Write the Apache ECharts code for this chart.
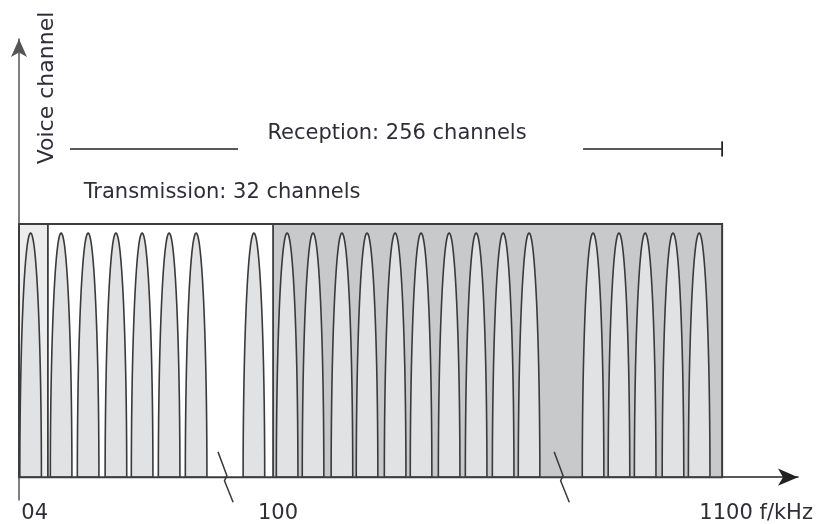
<!DOCTYPE html>
<html>
<head>
<meta charset="utf-8">
<script src="https://cdn.jsdelivr.net/npm/echarts@6/dist/echarts.min.js"></script>
<style>
  html, body { margin: 0; padding: 0; background: #ffffff; }
  #chart { width: 817px; height: 524px; }
</style>
</head>
<body>
<div id="chart"></div>
<script>
// ---- data (schematic axis in channel-slot units) ----
const channelCenters = [0.43, 1.56, 2.56, 3.59, 4.56, 5.56, 6.56, 8.70,
  9.93, 10.89, 11.96, 12.89, 13.93, 14.89, 15.93, 16.93, 17.93, 18.89,
  21.26, 22.22, 23.19, 24.22, 25.19];
const channelLevels = [9.64, 9.64, 9.64, 9.64, 9.64, 9.64, 9.64, 9.64,
  9.64, 9.64, 9.64, 9.64, 9.64, 9.64, 9.64, 9.64, 9.64, 9.64,
  9.64, 9.64, 9.64, 9.64, 9.64];
const channelWidth = 0.8;
const bandStarts = [0, 1.07, 9.41];
const bandEnds = [1.07, 9.41, 26.04];
const bandTop = 10;
const breakPositions = [7.6, 20.05];
const xTickValues = [0.58, 9.59, 27.3];
const xTickLabels = ['04', '100', '1100 f/kHz'];
const receptionSegments = [[1.89, 8.11], [20.89, 26.04]];
const receptionLevel = 12.96;
const receptionText = 'Reception: 256 channels';
const transmissionText = 'Transmission: 32 channels';
const yAxisName = 'Voice channel';

// ---- styles ----
const bandColors = ['#ececec', '#ffffff', '#c8c9cb'];
const archFill = '#e1e2e4';
const textColor = '#2e2e36';
const FONT = '"DejaVu Sans", "Liberation Sans", sans-serif';

const chart = echarts.init(document.getElementById('chart'), null, { renderer: 'canvas' });

const channelData = channelCenters.map((c, i) => [c, channelLevels[i]]);
const bandData = bandStarts.map((s, i) => [s, bandEnds[i], i]);

const option = {
  animation: false,
  backgroundColor: '#ffffff',
  grid: { left: 19, right: 19, top: 39, bottom: 24, containLabel: false, outerBoundsMode: 'none' },
  xAxis: {
    type: 'value', min: 0, max: 28.85,
    splitLine: { show: false },
    axisTick: { show: false },
    axisLine: {
      show: true, onZero: true,
      symbol: ['none', 'arrow'], symbolSize: [13, 20],
      lineStyle: { color: '#222222', width: 1.5 }
    },
    axisLabel: {
      show: true,
      customValues: xTickValues,
      formatter: function (v) {
        const i = xTickValues.indexOf(v);
        return i >= 0 ? xTickLabels[i] : '';
      },
      margin: 3,
      color: textColor,
      fontFamily: FONT,
      fontSize: 21
    }
  },
  yAxis: {
    type: 'value', min: -0.9, max: 17.3,
    splitLine: { show: false },
    axisTick: { show: false },
    axisLabel: { show: false },
    axisLine: {
      show: true, onZero: false,
      symbol: ['none', 'arrow'], symbolSize: [12, 18],
      lineStyle: { color: '#555555', width: 1.5 }
    }
  },
  graphic: [{
    type: 'text', x: 47, y: 88, rotation: Math.PI / 2,
    style: {
      text: yAxisName, align: 'center', verticalAlign: 'middle',
      fontSize: 22, fontFamily: FONT, fill: textColor
    }
  }],
  series: [
    {
      name: 'bands', type: 'custom', coordinateSystem: 'cartesian2d', z: 1,
      data: bandData,
      encode: { x: [0, 1] },
      renderItem: function (params, api) {
        const p0 = api.coord([api.value(0), bandTop]);
        const p1 = api.coord([api.value(1), 0]);
        return {
          type: 'rect',
          shape: { x: p0[0], y: p0[1], width: p1[0] - p0[0], height: p1[1] - p0[1] },
          style: { fill: bandColors[api.value(2)] }
        };
      }
    },
    {
      name: 'channels', type: 'custom', coordinateSystem: 'cartesian2d', z: 2,
      data: channelData,
      encode: { x: 0, y: 1 },
      renderItem: function (params, api) {
        const c = api.value(0), h = api.value(1);
        const pts = [];
        const N = 40;
        for (let i = 0; i <= N; i++) {
          const th = Math.PI - Math.PI * i / N;
          pts.push(api.coord([c + Math.cos(th) * channelWidth / 2, h * Math.sin(th)]));
        }
        return {
          type: 'polygon',
          shape: { points: pts },
          style: { fill: archFill, stroke: '#3a3a3a', lineWidth: 1.6 }
        };
      }
    },
    {
      name: 'frame', type: 'custom', coordinateSystem: 'cartesian2d', z: 3,
      data: [[0]],
      renderItem: function (params, api) {
        const tl = api.coord([bandStarts[0], bandTop]);
        const br = api.coord([bandEnds[bandEnds.length - 1], 0]);
        const children = [{
          type: 'rect',
          shape: { x: tl[0], y: tl[1], width: br[0] - tl[0], height: br[1] - tl[1] },
          style: { fill: 'none', stroke: '#3c3c3c', lineWidth: 2 }
        }];
        for (let i = 1; i < bandStarts.length; i++) {
          const a = api.coord([bandStarts[i], bandTop]);
          const b = api.coord([bandStarts[i], 0]);
          children.push({
            type: 'line', shape: { x1: a[0], y1: a[1], x2: b[0], y2: b[1] },
            style: { stroke: '#3c3c3c', lineWidth: 1.8 }
          });
        }
        // axis break marks
        breakPositions.forEach(function (bx) {
          const pts = [
            api.coord([bx - 0.23, 1.0]),
            api.coord([bx + 0.10, 0.06]),
            api.coord([bx + 0.01, -0.14]),
            api.coord([bx + 0.33, -0.99])
          ];
          children.push({
            type: 'polyline', shape: { points: pts },
            style: { stroke: '#3a3a3a', lineWidth: 1.5, fill: 'none' }
          });
        });
        // reception span
        receptionSegments.forEach(function (seg) {
          const a = api.coord([seg[0], receptionLevel]);
          const b = api.coord([seg[1], receptionLevel]);
          children.push({
            type: 'line', shape: { x1: a[0], y1: a[1], x2: b[0], y2: b[1] },
            style: { stroke: '#222222', lineWidth: 1.6 }
          });
        });
        const endSeg = receptionSegments[receptionSegments.length - 1];
        const t1 = api.coord([endSeg[1], receptionLevel + 0.3]);
        const t2 = api.coord([endSeg[1], receptionLevel - 0.3]);
        children.push({
          type: 'line', shape: { x1: t1[0], y1: t1[1], x2: t2[0], y2: t2[1] },
          style: { stroke: '#222222', lineWidth: 1.8 }
        });
        const rp = api.coord([14.0, 13.55]);
        children.push({
          type: 'text', x: rp[0], y: rp[1],
          style: { text: receptionText, align: 'center', verticalAlign: 'middle',
            fontSize: 21, fontFamily: FONT, fill: textColor }
        });
        const tp = api.coord([7.52, 11.25]);
        children.push({
          type: 'text', x: tp[0], y: tp[1],
          style: { text: transmissionText, align: 'center', verticalAlign: 'middle',
            fontSize: 21, fontFamily: FONT, fill: textColor }
        });
        return { type: 'group', children: children };
      }
    }
  ]
};

chart.setOption(option);
</script>
</body>
</html>
